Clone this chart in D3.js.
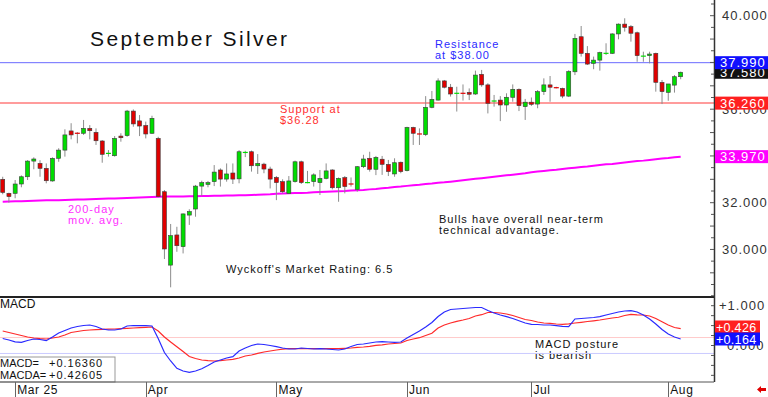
<!DOCTYPE html>
<html>
<head>
<meta charset="utf-8">
<script src="https://cdn.jsdelivr.net/npm/d3@7"></script>
<style>
  body { margin: 0; background: #fff; }
  svg { display: block; font-family: "Liberation Sans", Arial, sans-serif; }
</style>
</head>
<body>
<svg id="chart" width="768" height="397"></svg>
<script>
// trading days Feb 27 .. Aug 5 2025 (exchange holidays removed)
const holidays = ["2025-04-18", "2025-05-26", "2025-06-19", "2025-07-04"];
const fmt = d3.timeFormat("%Y-%m-%d");
const dates = d3.timeDay.range(new Date(2025, 1, 27), new Date(2025, 7, 6))
    .filter(d => d.getDay() % 6 !== 0 && !holidays.includes(fmt(d)))
    .map(fmt);

const monthLabels = ["Mar 25", "Apr", "May", "Jun", "Jul", "Aug"];

// OHLC
const opens = [33.00,32.40,32.40,32.80,33.11,33.78,33.68,33.47,32.93,33.90,34.25,35.07,35.00,34.97,35.18,35.01,34.64,34.10,34.01,34.85,
  34.87,35.92,35.50,35.30,34.97,34.75,32.47,29.33,30.62,30.12,31.47,31.73,32.71,32.78,32.90,33.40,33.01,33.27,33.02,34.14,
  34.18,33.58,33.65,33.44,33.08,32.90,32.40,32.90,33.75,32.85,32.90,32.86,33.04,33.40,32.64,33.07,32.83,32.57,33.54,33.90,
  33.43,33.86,33.64,33.23,33.73,33.37,35.22,34.97,34.91,36.08,36.39,37.21,36.94,36.67,36.69,36.72,36.65,37.49,37.04,36.34,
  36.39,36.18,36.51,36.85,36.11,36.30,36.22,36.75,37.04,36.93,36.89,36.56,37.60,39.10,38.39,37.96,38.10,38.38,38.39,39.22,
  39.64,39.53,39.27,38.25,38.29,38.39,37.15,36.72,37.03,37.39];
const highs = [33.11,32.43,32.97,33.17,33.82,33.94,33.82,33.68,33.94,34.33,35.14,35.40,35.02,35.54,35.32,35.18,34.68,34.25,34.85,34.97,
  35.97,35.99,35.75,35.47,35.72,34.82,32.54,31.09,30.97,31.54,31.72,32.76,32.94,32.93,33.61,33.47,33.68,33.68,34.25,34.22,
  34.23,34.08,33.71,33.54,33.14,33.00,33.14,33.80,33.80,33.36,33.26,33.40,33.68,33.43,33.08,33.14,33.08,33.57,34.05,34.18,
  34.00,34.00,33.83,33.90,33.76,35.25,35.25,35.18,36.56,36.78,37.32,37.25,37.08,36.96,37.06,36.89,37.65,37.68,37.11,36.61,
  36.56,36.68,37.06,36.89,36.44,36.50,36.82,37.32,37.42,36.96,36.92,37.67,39.22,39.56,38.70,38.25,38.46,38.82,39.25,39.67,
  39.89,39.60,39.32,38.46,38.46,38.42,37.25,37.08,37.46,37.61];
const lows = [32.36,32.00,32.19,32.66,32.97,33.43,33.11,32.83,32.90,33.75,33.97,34.71,34.54,34.90,34.71,34.47,33.71,33.97,33.97,34.61,
  34.82,35.25,34.85,34.75,34.94,32.23,29.59,28.38,29.90,29.83,31.05,31.40,32.29,32.66,32.71,32.69,32.90,32.80,32.83,33.95,
  33.33,33.23,33.26,32.61,32.11,32.40,32.37,32.86,32.80,32.83,32.69,32.33,33.00,32.57,32.04,32.40,32.69,32.47,33.48,33.33,
  33.18,33.19,33.14,33.11,33.26,33.34,34.47,34.47,34.85,36.04,36.37,36.89,36.54,35.90,36.37,36.39,36.61,36.96,35.82,36.11,
  35.49,35.89,36.32,35.92,35.54,36.14,36.04,36.61,36.32,36.89,36.47,36.52,37.46,38.25,37.89,37.71,37.65,38.32,38.36,38.99,
  39.32,38.89,38.03,38.03,37.96,36.75,36.22,36.36,36.71,37.28];
const closes = [32.44,32.26,32.80,33.11,33.78,33.87,33.47,32.94,33.90,34.25,34.90,34.90,34.94,35.18,35.08,34.65,34.07,34.12,34.75,34.78,
  35.92,35.37,35.28,34.94,35.61,32.26,30.02,30.59,30.16,31.52,31.62,32.71,32.86,32.86,33.31,33.01,33.23,33.01,34.18,34.16,
  33.58,33.68,33.44,33.01,32.86,32.47,32.93,33.75,32.86,32.87,33.19,33.04,33.36,32.64,33.04,32.69,32.77,33.54,33.87,33.43,
  33.94,33.64,33.33,33.71,33.33,35.22,34.97,34.91,36.08,36.42,37.21,36.94,36.65,36.69,36.67,36.64,37.46,37.04,36.25,36.36,
  36.18,36.51,36.85,36.15,36.30,36.21,36.75,37.04,36.94,36.91,36.56,37.61,39.03,38.39,37.93,38.10,38.42,38.40,39.22,39.64,
  39.50,39.25,38.29,38.29,38.36,37.15,36.75,37.08,37.39,37.58];

// 200-day moving average
const ma200 = [32.04,32.05,32.06,32.06,32.07,32.08,32.09,32.10,32.10,32.11,32.12,32.13,32.14,32.14,32.15,32.16,32.17,32.18,32.18,32.19,
  32.20,32.21,32.22,32.23,32.24,32.25,32.26,32.26,32.27,32.27,32.28,32.28,32.29,32.29,32.30,32.30,32.31,32.31,32.32,32.32,
  32.33,32.34,32.35,32.36,32.38,32.39,32.40,32.41,32.42,32.43,32.45,32.46,32.47,32.48,32.49,32.50,32.52,32.53,32.54,32.57,
  32.59,32.62,32.64,32.67,32.69,32.72,32.75,32.77,32.80,32.82,32.85,32.87,32.90,32.93,32.96,32.99,33.02,33.05,33.08,33.11,
  33.14,33.17,33.20,33.23,33.26,33.30,33.33,33.36,33.39,33.41,33.44,33.47,33.50,33.53,33.55,33.58,33.61,33.64,33.66,33.69,
  33.72,33.75,33.78,33.80,33.83,33.86,33.89,33.91,33.94,33.97];

// MACD and its signal line (MACDA)
const macd = [0.176,0.138,0.093,0.080,0.126,0.163,0.151,0.121,0.214,0.314,0.377,0.440,0.477,0.503,0.515,0.477,0.415,0.389,0.389,0.415,
  0.490,0.503,0.497,0.497,0.490,0.176,-0.176,-0.389,-0.573,-0.641,-0.673,-0.641,-0.583,-0.503,-0.415,-0.364,-0.314,-0.281,-0.138,-0.063,
  0.000,0.038,0.025,0.000,-0.030,-0.063,-0.088,-0.088,-0.063,-0.075,-0.088,-0.080,-0.088,-0.100,-0.113,-0.088,-0.025,0.025,0.038,0.063,
  0.088,0.095,0.088,0.080,0.088,0.188,0.276,0.364,0.465,0.578,0.729,0.842,0.905,0.917,0.930,0.942,0.955,0.955,0.879,0.817,
  0.766,0.724,0.678,0.623,0.565,0.533,0.528,0.515,0.515,0.497,0.482,0.472,0.666,0.678,0.691,0.704,0.724,0.766,0.804,0.842,
  0.867,0.874,0.842,0.766,0.666,0.540,0.402,0.289,0.214,0.1636];
const macda = [0.364,0.327,0.289,0.251,0.214,0.188,0.171,0.163,0.188,0.214,0.264,0.327,0.352,0.377,0.389,0.400,0.407,0.410,0.415,0.422,
  0.430,0.440,0.447,0.455,0.465,0.364,0.214,0.088,-0.030,-0.151,-0.276,-0.327,-0.364,-0.382,-0.389,-0.379,-0.364,-0.347,-0.314,-0.264,
  -0.239,-0.196,-0.163,-0.138,-0.113,-0.093,-0.080,-0.080,-0.080,-0.080,-0.080,-0.080,-0.080,-0.080,-0.080,-0.073,-0.063,-0.048,-0.038,-0.020,
  0.005,0.018,0.038,0.050,0.063,0.126,0.163,0.196,0.251,0.307,0.440,0.515,0.565,0.608,0.641,0.678,0.741,0.774,0.829,0.829,
  0.817,0.791,0.754,0.704,0.653,0.628,0.590,0.565,0.558,0.540,0.533,0.545,0.565,0.583,0.603,0.621,0.641,0.666,0.691,0.709,
  0.754,0.784,0.771,0.766,0.741,0.678,0.598,0.515,0.452,0.42605];

// only the axis labels that are not hidden under a value tag
const priceTicks = [30, 32, 36, 40];
const macdTicks = [1, 0];
const resistance = 37.99, support = 36.26;

const svg = d3.select("#chart");
const plotRight = 714;

const x = d3.scaleBand().domain(dates).range([-0.4, -0.4 + 6.22 * dates.length]);
const cx = d => x(d) + x.bandwidth() / 2;
const y = d3.scaleLinear().domain([28, 40]).range([296.2, 15.7]);
const ym = d3.scaleLinear().domain([0, 1]).range([345.5, 305.7]);

const green = "#00dd00", red = "#e00000";

// support / resistance lines
svg.append("line").attr("x1", 0).attr("x2", plotRight).attr("y1", y(resistance)).attr("y2", y(resistance))
    .attr("stroke", "#6b6bff").attr("stroke-width", 1);
svg.append("line").attr("x1", 0).attr("x2", plotRight).attr("y1", y(support)).attr("y2", y(support))
    .attr("stroke", "#ff9c9c").attr("stroke-width", 2);

// 200 day moving average
svg.append("path")
    .attr("d", d3.line().x((d, i) => cx(dates[i])).y(d => y(d))(ma200))
    .attr("fill", "none").attr("stroke", "#ff00ff").attr("stroke-width", 2);

// candles
const candles = dates.map((d, i) => ({date: d, o: opens[i], h: highs[i], l: lows[i], c: closes[i]}));
const cg = svg.append("g");
cg.selectAll(".wick").data(candles).join("line")
    .attr("class", "wick")
    .attr("x1", d => cx(d.date)).attr("x2", d => cx(d.date))
    .attr("y1", d => y(d.h)).attr("y2", d => y(d.l))
    .attr("stroke", "#8c8c8c").attr("stroke-width", 1);
cg.selectAll(".body").data(candles.filter(d => Math.abs(y(d.o) - y(d.c)) >= 1.5)).join("rect")
    .attr("class", "body")
    .attr("x", d => cx(d.date) - 2).attr("width", 4)
    .attr("y", d => y(Math.max(d.o, d.c)))
    .attr("height", d => Math.abs(y(d.o) - y(d.c)))
    .attr("fill", d => d.c >= d.o ? green : red)
    .attr("stroke", "#3a3a3a").attr("stroke-width", 0.6);
cg.selectAll(".doji").data(candles.filter(d => Math.abs(y(d.o) - y(d.c)) < 1.5)).join("line")
    .attr("class", "doji")
    .attr("x1", d => cx(d.date) - 2.5).attr("x2", d => cx(d.date) + 2.5)
    .attr("y1", d => y((d.o + d.c) / 2)).attr("y2", d => y((d.o + d.c) / 2))
    .attr("stroke", d => d.c >= d.o ? green : red).attr("stroke-width", 1.2);

// text notes
function note(lines, x0, y0, color, size = 11, ls = 1) {
    const t = svg.append("text").attr("fill", color).attr("font-size", size).attr("letter-spacing", ls);
    lines.forEach((s, k) => t.append("tspan").attr("x", x0).attr("y", y0 + k * 11).text(s));
}
svg.append("text").attr("x", 90).attr("y", 46).attr("font-size", 21).attr("letter-spacing", 2.4)
    .attr("fill", "#111").text("September Silver");
note(["Resistance", "at $38.00"], 435, 48, "#2a2aff");
note(["Support at", "$36.28"], 280, 113, "#ff3030");
note(["200-day", "mov. avg."], 68, 213, "#ff30ff");
note(["Bulls have overall near-term", "technical advantage."], 439, 223, "#111");
note(["Wyckoff's Market Rating: 6.5"], 226, 273, "#111");
note(["MACD posture", "is bearish"], 535, 348, "#111");

// MACD panel
[[0.2, "#ffcaca"], [-0.2, "#cacaff"]].forEach(([v, col]) => {
    svg.append("line").attr("x1", 0).attr("x2", plotRight).attr("y1", ym(v)).attr("y2", ym(v))
        .attr("stroke", col).attr("stroke-width", 1);
});
const mline = d3.line().x((d, i) => cx(dates[i])).y(d => ym(d));
svg.append("path").attr("d", mline(macda)).attr("fill", "none").attr("stroke", "#ff2a2a").attr("stroke-width", 1.2);
svg.append("path").attr("d", mline(macd)).attr("fill", "none").attr("stroke", "#2a2aff").attr("stroke-width", 1.2);
svg.append("text").attr("x", 0).attr("y", 308).attr("font-size", 12).attr("fill", "#111").text("MACD");

const legend = svg.append("g");
legend.append("rect").attr("x", -1).attr("y", 357).attr("width", 116).attr("height", 25)
    .attr("fill", "#fff").attr("stroke", "#999");
[["MACD=", macd[macd.length - 1]], ["MACDA=", macda[macda.length - 1]]].forEach(([lab, v], k) => {
    legend.append("text").attr("x", 0).attr("y", 367 + k * 11.5).attr("font-size", 11).attr("fill", "#111").text(lab);
    legend.append("text").attr("x", 49).attr("y", 367 + k * 11.5).attr("font-size", 11).attr("letter-spacing", 1)
        .attr("fill", "#111").text(d3.format("+.5f")(v));
});

// frame
svg.append("line").attr("x1", 0).attr("x2", plotRight).attr("y1", 297).attr("y2", 297).attr("stroke", "#222").attr("stroke-width", 2);
svg.append("line").attr("x1", 0).attr("x2", plotRight).attr("y1", 382).attr("y2", 382).attr("stroke", "#555").attr("stroke-width", 1);
svg.append("line").attr("x1", plotRight + 0.5).attr("x2", plotRight + 0.5).attr("y1", 0).attr("y2", 382).attr("stroke", "#333").attr("stroke-width", 1.5);

// right price axis
const ay = svg.append("g");
d3.range(28.5, 40.6, 0.5).forEach(v => {
    ay.append("line").attr("x1", plotRight - (v % 1 === 0 ? 4 : 3)).attr("x2", plotRight)
        .attr("y1", y(v)).attr("y2", y(v)).attr("stroke", "#555");
});
priceTicks.forEach(v => {
    ay.append("text").attr("x", 722).attr("y", y(v) + 4.5).attr("font-size", 13).attr("letter-spacing", 1)
        .attr("fill", "#333").text(d3.format(".3f")(v));
});
d3.range(-0.75, 1.26, 0.25).forEach(v => {
    ay.append("line").attr("x1", plotRight - 3).attr("x2", plotRight).attr("y1", ym(v)).attr("y2", ym(v)).attr("stroke", "#555");
});
macdTicks.forEach(v => {
    ay.append("text").attr("x", v === 0 ? 727 : 719).attr("y", ym(v) + 4.5).attr("font-size", 13).attr("letter-spacing", 1)
        .attr("fill", "#333").text(v === 0 ? "0.000" : d3.format("+.3f")(v));
});

// value tags on the right edge
function tag(cy, text, fill, x1 = 768, size = 13) {
    ay.append("rect").attr("x", plotRight + 1).attr("y", cy - 6.5).attr("width", x1 - plotRight - 1).attr("height", 13).attr("fill", fill);
    ay.append("text").attr("x", x1 === 768 ? 720 : 716).attr("y", cy + 4.8).attr("font-size", size)
        .attr("letter-spacing", x1 === 768 ? 1 : 0.3).attr("fill", "#fff").text(text);
}
const last = closes.length - 1;
tag(y(closes[last]), d3.format(".3f")(closes[last]), "#111");
tag(y(resistance), d3.format(".3f")(resistance), "#1010ff");
tag(y(support), d3.format(".3f")(support), "#ff2020");
tag(y(ma200[last]), d3.format(".3f")(ma200[last]), "#ff00ff");
const yBlue = ym(macd[last]);
const yRed = Math.min(ym(macda[last]), yBlue - 12);
tag(yRed, d3.format("+.3f")(macda[last]), "#ff2020", 760, 12.5);
tag(yBlue, d3.format("+.3f")(macd[last]), "#1010ff", 760, 12.5);

// month axis
const firsts = monthLabels.map((lab, k) => dates.find(d => +d.slice(5, 7) === k + 3));
const ax = svg.append("g");
firsts.forEach((d, k) => {
    ax.append("line").attr("x1", Math.round(cx(d)) + 0.5).attr("x2", Math.round(cx(d)) + 0.5)
        .attr("y1", 382).attr("y2", 397).attr("stroke", "#666");
    ax.append("text").attr("x", cx(d) + 2).attr("y", 394).attr("font-size", 12).attr("letter-spacing", 0.6)
        .attr("fill", "#111").text(monthLabels[k]);
});
svg.append("path").attr("d", "M757,389.5 L761,386 L761,388 L766,388 L766,391 L761,391 L761,393 Z").attr("fill", "#e00000");
</script>
</body>
</html>
